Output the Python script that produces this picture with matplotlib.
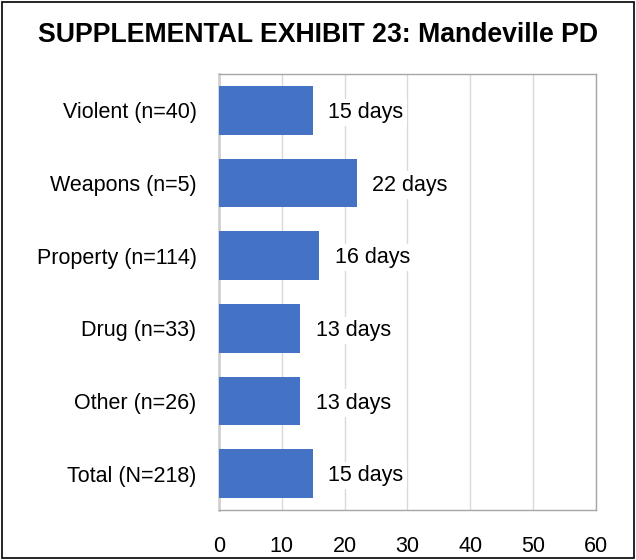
import matplotlib
matplotlib.use("Agg")
import matplotlib.pyplot as plt
from matplotlib.patches import Rectangle

categories = ["Violent (n=40)", "Weapons (n=5)", "Property (n=114)", "Drug (n=33)", "Other (n=26)", "Total (N=218)"]
values = [15, 22, 16, 13, 13, 15]
xticks = [0, 10, 20, 30, 40, 50, 60]

plt.rcParams['font.family'] = ['Liberation Sans', 'DejaVu Sans']

fig = plt.figure(figsize=(6.36, 5.6), dpi=100)
ax = fig.add_axes([0.344, 0.0893, 0.593, 0.7787])

y = list(range(len(categories)))
ax.barh(y, values, height=0.67, color="#4472C4", zorder=3)
ax.set_ylim(len(categories) - 0.5, -0.5)
ax.set_xlim(0, 60)
ax.set_xticks(xticks)
ax.set_yticks(y)
ax.set_yticklabels(categories, fontsize=15.5)
ax.tick_params(axis='x', labelsize=15.5, length=0, pad=19)
ax.tick_params(axis='y', length=0, pad=16)
ax.grid(axis='x', color="#D9D9D9", linewidth=1, zorder=0)
for s in ax.spines.values():
    s.set_color("#A6A6A6")
    s.set_linewidth(1)
ax.spines['left'].set_color("#D0D0D0")
ax.spines['left'].set_linewidth(2)

for yi, v in zip(y, values):
    ax.annotate(f"{v} days", xy=(v, yi), xytext=(11, -1.5), textcoords="offset points",
                ha="left", va="center", fontsize=15.5, zorder=4,
                bbox=dict(boxstyle="square,pad=0.15", fc="white", ec="none"))

fig.text(0.5, 0.938, "SUPPLEMENTAL EXHIBIT 23: Mandeville PD", ha="center", va="center",
         fontsize=19.2, fontweight="bold")

fig.patches.append(Rectangle((0.003, 0.003), 0.994, 0.994, transform=fig.transFigure,
                             fill=False, edgecolor="black", linewidth=1.2))

fig.savefig("out.png", dpi=100)
